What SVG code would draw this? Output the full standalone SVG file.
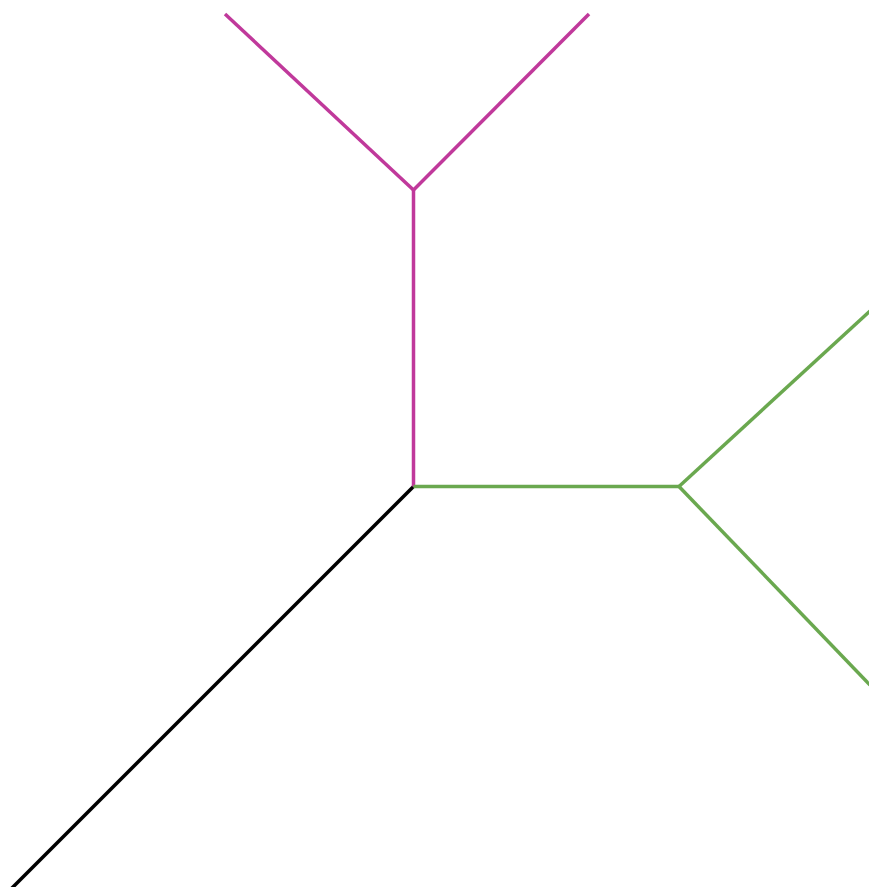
<svg xmlns="http://www.w3.org/2000/svg" width="869" height="887" viewBox="0 0 869 887">
<style>
.e{fill:none;stroke-width:3.5;stroke-linecap:butt;stroke-linejoin:miter}
.k{stroke:#000000}
.m{stroke:#c0399b}
.g{stroke:#6aa84f}
</style>
<rect width="869" height="887" fill="#ffffff"/>
<g id="connectors">
<path class="e k" d="M413.5,486.5 L11,889"/>
<path class="e m" d="M413.5,486.5 L413.5,190"/>
<path class="e m" d="M413.5,190 L225,14"/>
<path class="e m" d="M413.5,190 L589,14"/>
<path class="e g" d="M413.5,486.5 L679,486.5"/>
<path class="e g" d="M679,486.5 L870,311"/>
<path class="e g" d="M679,486.5 L870,685"/>
</g>
</svg>
